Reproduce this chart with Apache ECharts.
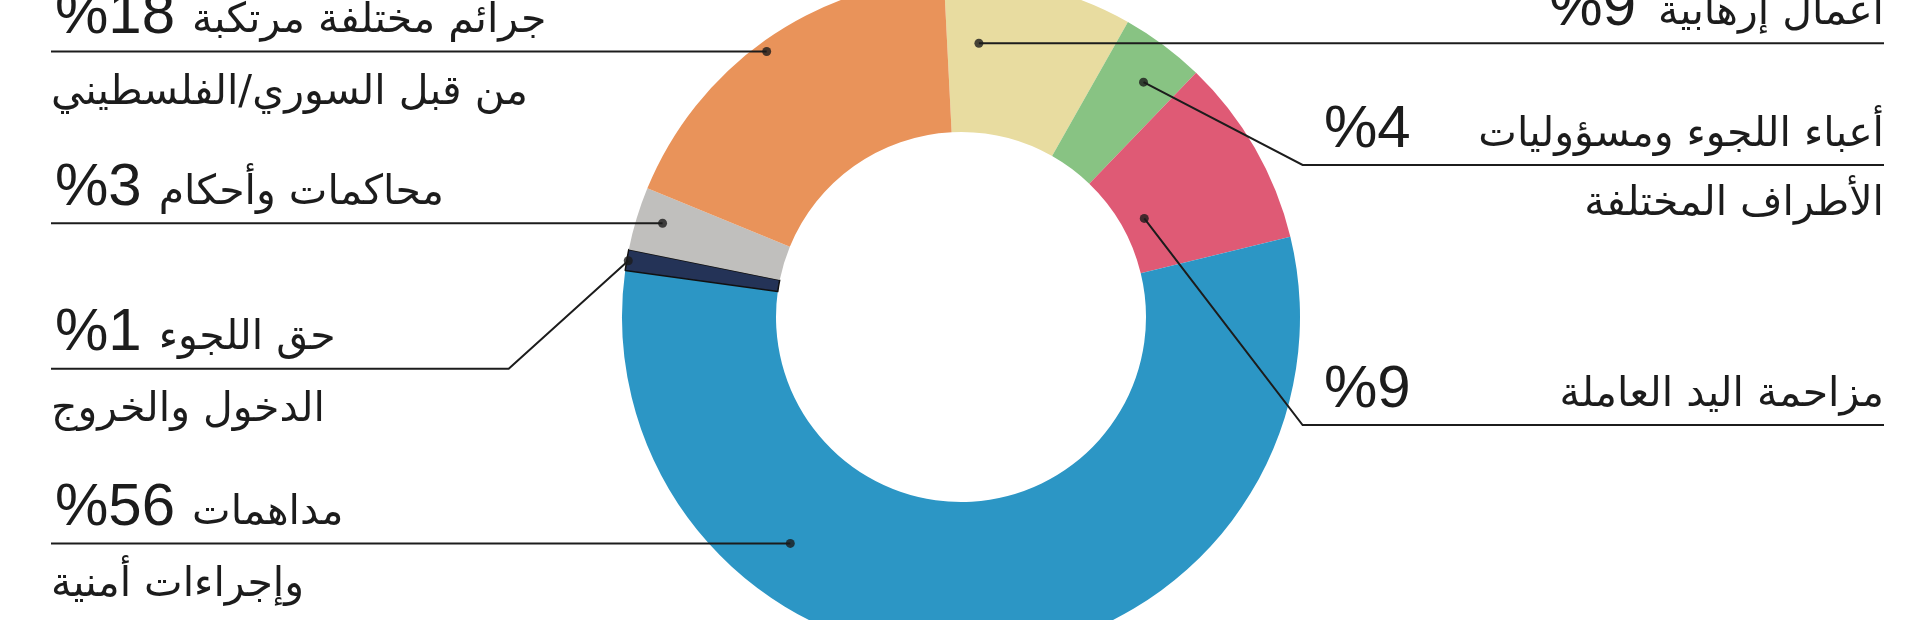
<!DOCTYPE html>
<html><head><meta charset="utf-8">
<script src="https://cdn.jsdelivr.net/npm/echarts@6/dist/echarts.min.js"></script>
<style>html,body{margin:0;padding:0;background:#fff}#c{width:1920px;height:620px}</style>
</head><body><div id="c"></div>
<script>
// ---- data ----
const categories = ['أعمال إرهابية','أعباء اللجوء ومسؤوليات الأطراف المختلفة','مزاحمة اليد العاملة','مداهمات وإجراءات أمنية','حق اللجوء الدخول والخروج','محاكمات وأحكام','جرائم مختلفة مرتكبة من قبل السوري/الفلسطيني'];
const values = [9, 4, 9, 56, 1, 3, 18];
const labelRow1 = ['أعمال إرهابية','أعباء اللجوء ومسؤوليات','مزاحمة اليد العاملة','مداهمات','حق اللجوء','محاكمات وأحكام','جرائم مختلفة مرتكبة'];
const labelRow2 = ['','الأطراف المختلفة','','وإجراءات أمنية','الدخول والخروج','','من قبل السوري/الفلسطيني'];

// ---- style / layout ----
const colors = ['#E8DCA0','#88C383','#DF5A75','#2C96C5','#243357','#C0BFBD','#E9935A'];
const CX = 961, CY = 317, R_IN = 185, R_OUT = 339, START = 92.9;
const LEFT_X = 51, RIGHT_X = 1884, RIGHT_TEXT_X = 1320;
const ROW1_H = 70, ROW2_H = 84;
const ARABIC = 'DejaVu Sans', NUMF = 'Liberation Sans';
const INK = '#1c1c1c';
const AR_SIZE = 41, NUM_SIZE = 60;
// anchor: t = fraction along the slice, f = fraction across the ring
const anchors = [
  {t:0.205, f:0.58, side:'r', numRight:true},
  {t:0.58,  f:0.73, side:'r', elbow:[1302.6,165]},
  {t:0.55,  f:0.15, side:'r', elbow:[1302.6,425]},
  {t:0.698, f:0.64, side:'l'},
  {t:0.47,  f:0.99, side:'l', elbow:[508.7,368.7]},
  {t:0.55,  f:0.83, side:'l'},
  {t:0.486, f:0.935,side:'l'}
];

const total = values.reduce((a,b)=>a+b,0);
let cum = 0;
const dots = values.map((v,i)=>{
  const a = (90 - START) + 360*(cum + anchors[i].t*v)/total;
  cum += v;
  const r = R_IN + anchors[i].f*(R_OUT - R_IN);
  return {a: ((a%360)+360)%360, r};
});
const dotPx = dots.map(d=>({x: CX + d.r*Math.sin(d.a*Math.PI/180), y: CY - d.r*Math.cos(d.a*Math.PI/180)}));

function fmt(i){
  const an = anchors[i];
  const num = '%' + values[i];
  let s;
  if (an.side === 'l') {
    s = '{n|' + num + '}{t|' + labelRow1[i] + '}';
    if (labelRow2[i]) s += '\n{t2|' + labelRow2[i] + '}';
  } else {
    s = (an.numRight ? '{nr|' : '{n|') + num + '}{tr|' + labelRow1[i] + '}';
    if (labelRow2[i]) s += '\n{t2r|' + labelRow2[i] + '}';
  }
  return s;
}

const rich = {
  n:  {fontFamily: NUMF, fontSize: NUM_SIZE, lineHeight: ROW1_H, color: INK, padding:[0,17,0,4]},
  nr: {fontFamily: NUMF, fontSize: NUM_SIZE, lineHeight: ROW1_H, color: INK, padding:[0,22,0,0], align:'right'},
  t:  {fontFamily: ARABIC, fontSize: AR_SIZE, lineHeight: ROW1_H, padding:[10,0,0,0], color: INK},
  tr: {fontFamily: ARABIC, fontSize: AR_SIZE, lineHeight: ROW1_H, padding:[10,0,0,0], color: INK, align:'right'},
  t2: {fontFamily: ARABIC, fontSize: AR_SIZE, lineHeight: ROW2_H, color: INK},
  t2r:{fontFamily: ARABIC, fontSize: AR_SIZE, lineHeight: ROW2_H - 6, color: INK, align:'right'}
};

const chart = echarts.init(document.getElementById('c'), null, {renderer:'canvas'});
chart.setOption({
  animation: false,
  backgroundColor: '#ffffff',
  polar: {center: [CX, CY], radius: R_OUT},
  angleAxis: {type:'value', min:0, max:360, startAngle:90, clockwise:true, show:false},
  radiusAxis: {type:'value', min:0, max:R_OUT, show:false},
  series: [
    {
      type: 'pie',
      center: [CX, CY],
      radius: [R_IN, R_OUT],
      startAngle: START,
      silent: true,
      z: 2,
      label: {show: false},
      labelLine: {show: false},
      data: values.map((v,i)=>({
        value: v,
        name: categories[i],
        itemStyle: i === 4 ? {color: colors[i], borderColor:'#111', borderWidth:1.5} : {color: colors[i]}
      }))
    },
    {
      type: 'pie',
      center: [CX, CY],
      radius: [R_IN, R_OUT],
      startAngle: START,
      avoidLabelOverlap: false,
      silent: true,
      z: 4,
      itemStyle: {color: 'rgba(0,0,0,0)'},
      label: {show: true, color: INK, overflow:'none', rich},
      labelLine: {show: true, smooth: false, lineStyle: {color: INK, width: 2}},
      labelLayout: function (p) {
        const i = p.dataIndex, an = anchors[i], d = dotPx[i];
        const lineY = an.elbow ? an.elbow[1] : d.y;
        const elbow = an.elbow ? an.elbow : [d.x, d.y];
        const endX = an.side === 'l' ? LEFT_X : RIGHT_X;
        return {
          x: an.side === 'l' ? LEFT_X : RIGHT_TEXT_X,
          y: lineY - ROW1_H,
          align: 'left',
          verticalAlign: 'top',
          labelLinePoints: [[d.x, d.y], elbow, [endX, lineY]]
        };
      },
      data: values.map((v,i)=>({
        value: v,
        name: categories[i],
        label: anchors[i].side === 'r' ? {formatter: fmt(i), width: RIGHT_X - RIGHT_TEXT_X} : {formatter: fmt(i)}
      }))
    },
    {
      type: 'scatter',
      coordinateSystem: 'polar',
      silent: true,
      z: 10,
      symbolSize: 9,
      itemStyle: {color: INK},
      data: dots.map(d=>[d.r, d.a])
    }
  ]
});
</script>
</body></html>
